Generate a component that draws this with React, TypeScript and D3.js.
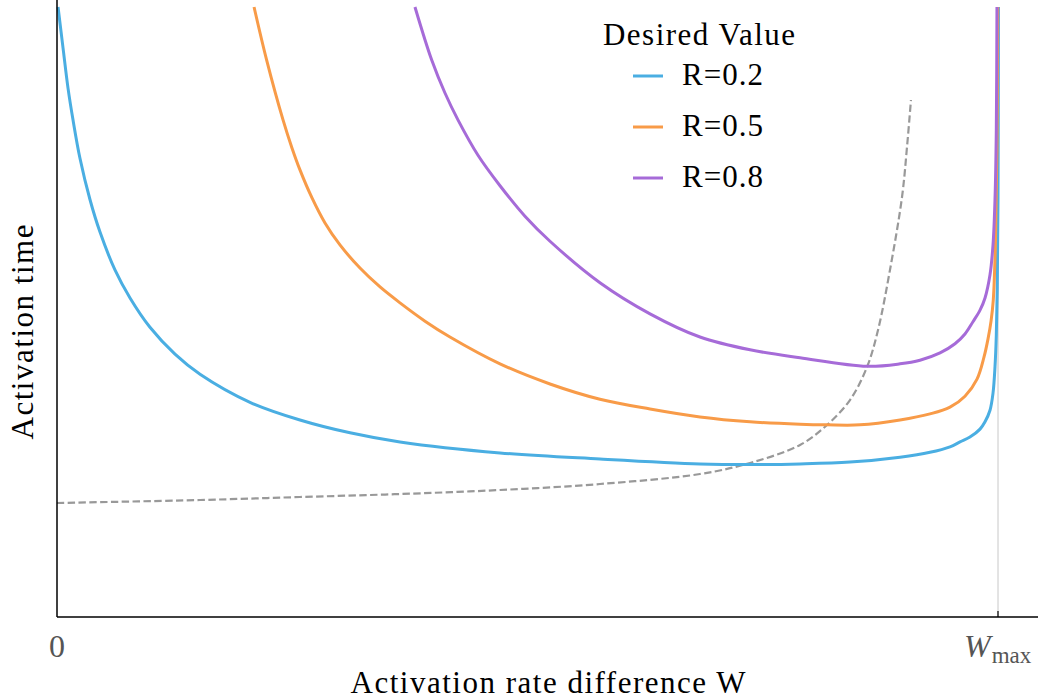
import React from "react";
import * as d3 from "d3";

// x: W as % of Wmax, y: activation time (arbitrary units)
const blueX = [0.11, 0.64, 1.17, 1.7, 2.44, 3.51, 4.57, 6.16, 7.76, 9.88, 12.54, 15.2, 20.51, 25.82, 31.14, 36.45, 47.08, 57.7, 68.33, 73.65, 78.96, 84.27, 89.59, 92.77, 94.9, 95.96, 97.02, 98.09, 98.62, 99.15, 99.47, 99.68, 99.82, 99.92, 100.0, 100.05];
const blueY = [10.0, 9.33, 8.67, 8.15, 7.52, 6.84, 6.31, 5.69, 5.23, 4.75, 4.31, 3.98, 3.52, 3.23, 3.02, 2.87, 2.69, 2.59, 2.51, 2.5, 2.51, 2.54, 2.62, 2.7, 2.79, 2.87, 2.95, 3.08, 3.2, 3.39, 3.67, 4.1, 4.62, 5.36, 6.84, 10.0];

const orangeX = [20.94, 22.28, 24.02, 24.97, 25.82, 27.1, 28.48, 30.07, 32.2, 34.33, 36.45, 39.11, 41.76, 47.08, 52.39, 57.7, 63.02, 68.33, 73.65, 78.96, 81.83, 85.33, 89.59, 92.77, 94.9, 96.49, 97.77, 98.51, 98.94, 99.26, 99.5, 99.73, 99.89, 99.97];
const orangeY = [10.0, 9.13, 8.15, 7.69, 7.33, 6.87, 6.46, 6.1, 5.72, 5.41, 5.15, 4.85, 4.59, 4.15, 3.82, 3.57, 3.41, 3.28, 3.2, 3.16, 3.15, 3.15, 3.23, 3.33, 3.44, 3.62, 3.9, 4.26, 4.56, 4.85, 5.2, 6.15, 7.64, 10.0];

const purpleX = [38.04, 39.82, 41.23, 42.61, 44.74, 47.08, 49.73, 52.39, 57.7, 63.02, 68.33, 73.65, 78.96, 86.08, 89.59, 91.71, 93.84, 95.43, 96.49, 97.34, 98.09, 98.62, 99.15, 99.47, 99.68, 99.82, 99.89];
const purpleY = [10.0, 9.13, 8.59, 8.15, 7.57, 7.07, 6.57, 6.16, 5.48, 4.97, 4.59, 4.38, 4.25, 4.11, 4.15, 4.21, 4.33, 4.48, 4.64, 4.84, 5.03, 5.23, 5.61, 6.1, 6.84, 7.98, 10.0];

const dashX = [0, 15.2, 25.82, 36.45, 47.08, 57.7, 68.33, 73.65, 78.96, 81.83, 84.27, 86.08, 87.25, 88.52, 89.8, 90.33, 90.75];
const dashY = [1.869, 1.918, 1.967, 2.016, 2.082, 2.18, 2.344, 2.525, 2.82, 3.148, 3.557, 4.098, 4.705, 5.689, 6.885, 7.705, 8.475];

const legendTitle = "Desired Value";
const legendLabels = ["R=0.2", "R=0.5", "R=0.8"];
const colors = ["#4aaee2", "#f89b48", "#a66bd8"];
const xTickLabels = ["0", "W", "max"];
const xLabel = "Activation rate difference W";
const yLabel = "Activation time";

const W = 1038;
const H = 700;
const left = 57;
const right = 998;
const bottom = 617;
const top = 7;

export default function App() {
  const x = d3.scaleLinear().domain([0, 100]).range([left, right]);
  const y = d3.scaleLinear().domain([0, 10]).range([bottom, top]);
  const line = d3
    .line<[number, number]>()
    .x((d) => x(d[0]))
    .y((d) => y(d[1]))
    .curve(d3.curveCatmullRom.alpha(0.5));

  const series = [
    { xs: blueX, ys: blueY },
    { xs: orangeX, ys: orangeY },
    { xs: purpleX, ys: purpleY },
  ];
  const zip = (a: number[], b: number[]) => a.map((v, i) => [v, b[i]] as [number, number]);
  const tf = { fontFamily: "Liberation Serif, DejaVu Serif, serif" };

  return (
    <svg width={W} height={H} style={{ position: "absolute", left: 0, top: 0 }}>
      <rect width={W} height={H} fill="#fff" />
      <line x1={x(100)} x2={x(100)} y1={top} y2={bottom} stroke="#c8c8c8" strokeWidth={1} />
      <path d={line(zip(dashX, dashY)) || ""} fill="none" stroke="#999" strokeWidth={2.2} strokeDasharray="7.4,3.4" />
      {series.map((s, i) => (
        <path key={i} d={line(zip(s.xs, s.ys)) || ""} fill="none" stroke={colors[i]} strokeWidth={3} />
      ))}
      {/* axes */}
      <line x1={left} x2={left} y1={0} y2={bottom} stroke="#000" strokeWidth={1.5} />
      <line x1={left} x2={W} y1={bottom} y2={bottom} stroke="#000" strokeWidth={1.5} />
      <line x1={x(100)} x2={x(100)} y1={bottom - 6} y2={bottom} stroke="#000" strokeWidth={1.2} />
      <text style={tf} x={x(0)} y={657} textAnchor="middle" fontSize={32} fill="#555">{xTickLabels[0]}</text>
      <text style={tf} x={964} y={657} fontSize={32} fill="#555" fontStyle="italic">
        {xTickLabels[1]}
        <tspan dx={1} dy={6} fontSize={23} fontStyle="normal">{xTickLabels[2]}</tspan>
      </text>
      <text style={tf} x={548} y={693} textAnchor="middle" fontSize={31} fill="#000" textLength={395}>{xLabel}</text>
      <text style={tf} transform="translate(33,332) rotate(-90)" textAnchor="middle" fontSize={31} fill="#000" textLength={215}>{yLabel}</text>
      {/* legend */}
      <text style={tf} x={699} y={45} textAnchor="middle" fontSize={31} fill="#000" textLength={192}>{legendTitle}</text>
      {legendLabels.map((lab, i) => (
        <g key={lab}>
          <line x1={633} x2={663} y1={76 + i * 51} y2={76 + i * 51} stroke={colors[i]} strokeWidth={3} />
          <text style={tf} x={682} y={85 + i * 51} fontSize={31} fill="#000" textLength={81}>{lab}</text>
        </g>
      ))}
    </svg>
  );
}
